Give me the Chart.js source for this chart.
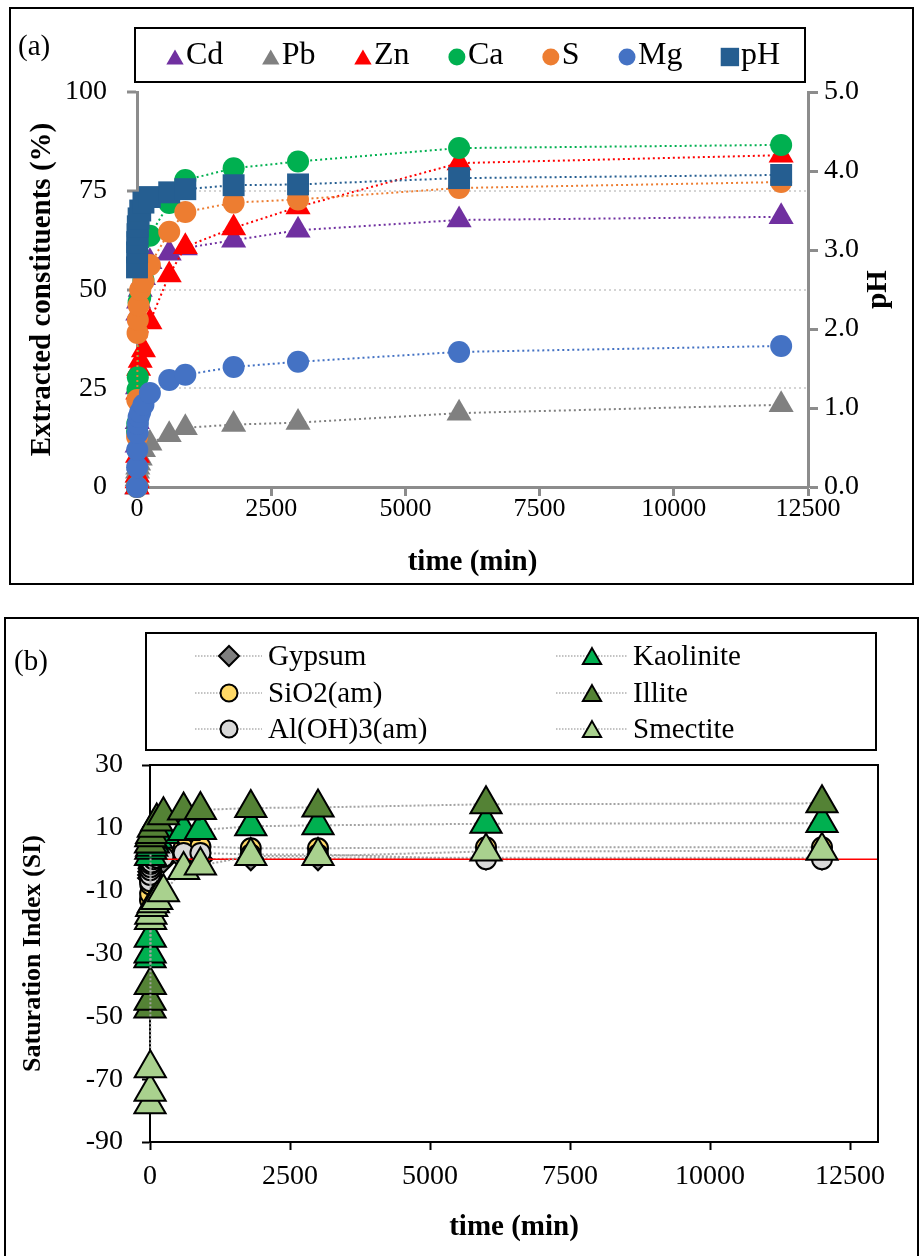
<!DOCTYPE html>
<html>
<head>
<meta charset="utf-8">
<title>Extraction kinetics and saturation indices</title>
<script src="https://cdn.jsdelivr.net/npm/chart.js@4.4.1/dist/chart.umd.min.js"></script>
<style>
  html, body { margin: 0; padding: 0; background: #fff; }
  body { position: relative; width: 919px; height: 1256px; overflow: hidden; font-family: "Liberation Serif", "Times New Roman", serif; }
  canvas { position: absolute; left: 0; }
  #chartA { top: 0; }
  #chartB { top: 600px; }
  .frame { position: absolute; border: 2px solid #000; box-sizing: border-box; pointer-events: none; }
  #frameA { left: 9px; top: 7px; width: 905px; height: 578px; }
  #frameB { left: 4px; top: 617px; width: 915px; height: 660px; }
  .tag { position: absolute; font-size: 29px; line-height: 1; color: #000; }
</style>
</head>
<body>
<canvas id="chartA" width="919" height="600"></canvas>
<canvas id="chartB" width="919" height="656"></canvas>
<div id="frameA" class="frame"></div>
<div id="frameB" class="frame"></div>
<div class="tag" style="left:18px;top:31px">(a)</div>
<div class="tag" style="left:14px;top:646px">(b)</div>

<script>
// sampling times (min), shared by both panels
const timeMin = [0, 2, 5, 10, 15, 30, 60, 120, 240, 600, 900, 1800, 3000, 6000, 12000];
const timeTicks = [0, 2500, 5000, 7500, 10000, 12500];

// panel (a): extracted constituents (%) and pH
const cdPct = [0, 10.6, 16.5, 25.3, 44, 47, 50, 53, 57, 59.2, 60.5, 62.5, 65, 67.6, 68.4];
const pbPct = [0, 2, 3, 4, 5, 6, 7.3, 9.4, 11.1, 13.2, 15, 15.8, 16.3, 18.7, 20.8];
const znPct = [0, 1.5, 3, 8, 24, 30, 32, 34.7, 41.8, 53.7, 60.8, 65.6, 70.9, 82, 84];
const caPct = [0, 14, 16, 24.6, 27.8, 46.8, 48, 52.4, 63.6, 71.9, 77.7, 80.7, 82.4, 85.8, 86.6];
const sPct = [0, 12.7, 22, 39, 42.3, 46, 49.9, 52, 56.2, 64.6, 69.6, 72, 72.8, 75.7, 77.2];
const mgPct = [0, 5, 9.4, 13.7, 16, 17.7, 19, 20.8, 23.8, 27.1, 28.4, 30.4, 31.7, 34.2, 35.7];
const phVal = [2.78, 2.97, 3.1, 3.2, 3.3, 3.4, 3.5, 3.6, 3.67, 3.73, 3.77, 3.82, 3.83, 3.91, 3.95];
const pctGridValues = [25, 50, 75];

// panel (b): saturation indices
const gypsumSI = [-6, -5, -4, -3, -2.5, -2, -1.5, -1, -0.5, 0, 0, 0.3, 0.3, 0.5, 0.5];
const sio2SI = [-13, -11, -8, -5, -3, -1.5, 0, 1, 2, 3.5, 4, 3.5, 3.5, 3.8, 3.8];
const aloh3SI = [-7, -5, -3.5, -2.5, -1.5, -1, 0, 0.5, 0.7, 2, 2, 1.5, 1.5, 0, 0];
const kaoliniteSI = [-31.5, -30, -25, 1, 3, 4, 5, 6.5, 8, 9, 9.3, 10.5, 10.8, 11.3, 11.5];
const illiteSI = [-47.5, -45, -40, 5, 7, 8, 10, 12, 14, 15.5, 15.7, 16.3, 16.5, 17.5, 17.8];
const smectiteSI = [-78, -74, -66.5, -19.3, -17.7, -15.2, -14, -13, -10.5, -3.4, -2, 1, 1, 2.5, 2.7];
const equilibriumSI = 0;

const serif = '"Liberation Serif", "Times New Roman", serif';
Chart.defaults.font.family = serif;
Chart.defaults.color = '#000';
Chart.defaults.animation = false;

const scatterPts = (ys) => timeMin.map((t, i) => ({ x: t, y: ys[i] }));
const plainNum = (v) => String(v);
const fixedTimeTicks = (s) => { s.ticks = timeTicks.map(v => ({ value: v })); };

function drawMarker(ctx, shape, x, y, r) {
  ctx.beginPath();
  if (shape === 'circle') {
    ctx.arc(x, y, r, 0, Math.PI * 2);
  } else if (shape === 'triangle') {
    ctx.moveTo(x, y - r);
    ctx.lineTo(x + r * 0.866, y + r / 2);
    ctx.lineTo(x - r * 0.866, y + r / 2);
    ctx.closePath();
  } else if (shape === 'rect') {
    const s = r * Math.SQRT1_2;
    ctx.rect(x - s, y - s, 2 * s, 2 * s);
  } else {
    ctx.moveTo(x - r, y);
    ctx.lineTo(x, y - r);
    ctx.lineTo(x + r, y);
    ctx.lineTo(x, y + r);
    ctx.closePath();
  }
  ctx.fill();
}

// ---------- panel (a) ----------
function seriesA(label, ys, color, shape, radius, axisId, order) {
  return {
    label, data: scatterPts(ys), yAxisID: axisId, order,
    showLine: true, borderColor: color, borderWidth: 2, borderDash: [2, 3],
    pointStyle: shape, pointRadius: radius, pointHoverRadius: radius,
    backgroundColor: color, pointBackgroundColor: color, pointBorderWidth: 0,
    clip: false
  };
}

const legendSizeA = { triangle: 10, circle: 8.5, rect: 13 };

const legendRowA = {
  id: 'legendRowA',
  afterDraw(chart) {
    const ctx = chart.ctx;
    ctx.save();
    ctx.strokeStyle = '#000';
    ctx.lineWidth = 2;
    ctx.strokeRect(135, 28, 670, 54);
    ctx.font = '32px ' + serif;
    ctx.textBaseline = 'middle';
    const sets = chart.data.datasets;
    const widths = sets.map(d => 17 + ctx.measureText(d.label).width);
    const gap = (778 - 167 - widths.reduce((a, b) => a + b, 0)) / (sets.length - 1);
    let x = 167;
    sets.forEach((d, i) => {
      const r = legendSizeA[d.pointStyle];
      ctx.fillStyle = d.pointBackgroundColor;
      drawMarker(ctx, d.pointStyle, x + 8, d.pointStyle === 'triangle' ? 57 + r / 4 : 57, r);
      ctx.fillStyle = '#000';
      ctx.fillText(d.label, x + 19, 56);
      x += widths[i] + gap;
    });
    ctx.restore();
  }
};

// secondary axis title, rotated like the primary one (reads bottom to top)
const phTitle = {
  id: 'phTitle',
  afterDraw(chart) {
    const s = chart.scales.yPh;
    const t = s.options.title;
    const ctx = chart.ctx;
    ctx.save();
    ctx.translate(s.right - 19, (s.top + s.bottom) / 2);
    ctx.rotate(-Math.PI / 2);
    ctx.font = 'bold 29px ' + serif;
    ctx.fillStyle = '#000';
    ctx.textAlign = 'center';
    ctx.textBaseline = 'middle';
    ctx.fillText(t.text, 0, 0);
    ctx.restore();
  }
};

const axisGrey = '#8c8c8c';

new Chart(document.getElementById('chartA'), {
  type: 'scatter',
  data: {
    datasets: [
      seriesA('Cd', cdPct, '#7030a0', 'triangle', 14.5, 'yPct', 7),
      seriesA('Pb', pbPct, '#808080', 'triangle', 14.5, 'yPct', 6),
      seriesA('Zn', znPct, '#ff0000', 'triangle', 14.5, 'yPct', 5),
      seriesA('Ca', caPct, '#00b050', 'circle', 11, 'yPct', 4),
      seriesA('S', sPct, '#ed7d31', 'circle', 11, 'yPct', 3),
      seriesA('Mg', mgPct, '#4472c4', 'circle', 11, 'yPct', 2),
      seriesA('pH', phVal, '#255e91', 'rect', 15.5, 'yPh', 1)
    ]
  },
  options: {
    responsive: false,
    devicePixelRatio: 1,
    events: [],
    layout: { padding: { top: 92, left: 10, right: 21, bottom: 23 } },
    plugins: { legend: { display: false }, tooltip: { enabled: false } },
    scales: {
      x: {
        type: 'linear', position: 'bottom', min: 0, max: 12500,
        afterFit: (s) => { s.height = 90; },
        afterBuildTicks: fixedTimeTicks,
        ticks: { font: { size: 26 }, padding: -2, maxRotation: 0, callback: plainNum },
        grid: { drawOnChartArea: false, tickLength: 9, tickColor: axisGrey, tickWidth: 3 },
        border: { color: axisGrey, width: 3 },
        title: { display: true, text: 'time (min)', font: { size: 29, weight: 'bold' }, padding: { top: 0, bottom: -3 } }
      },
      yPct: {
        type: 'linear', position: 'left', min: 0, max: 100,
        afterFit: (s) => { s.width = 127; },
        ticks: { stepSize: 25, font: { size: 28 }, padding: 20, callback: plainNum },
        grid: {
          color: (c) => pctGridValues.includes(c.tick && c.tick.value) ? '#d4d4d4' : 'rgba(0,0,0,0)',
          lineWidth: 2, tickLength: 10, tickColor: axisGrey, tickWidth: 3
        },
        border: { color: axisGrey, width: 3, dash: [2, 3] },
        title: { display: true, text: 'Extracted constituents (%)', font: { size: 29, weight: 'bold' }, padding: { top: 15, bottom: 0 } }
      },
      yPh: {
        type: 'linear', position: 'right', min: 0, max: 5,
        afterFit: (s) => { s.width = 90; },
        ticks: { stepSize: 1, font: { size: 28 }, padding: 6, callback: (v) => Number(v).toFixed(1) },
        grid: { drawOnChartArea: false, tickLength: 10, tickColor: axisGrey, tickWidth: 3 },
        border: { color: axisGrey, width: 3 },
        title: { display: false, text: 'pH' }
      }
    }
  },
  plugins: [legendRowA, phTitle]
});

// ---------- panel (b) ----------
function seriesB(label, ys, fill, shape, radius, order) {
  return {
    label, data: scatterPts(ys), order,
    showLine: true, borderColor: '#a3a3a3', borderWidth: 2, borderDash: [2, 2],
    pointStyle: shape, pointRadius: radius, pointHoverRadius: radius,
    backgroundColor: fill, pointBackgroundColor: fill,
    pointBorderColor: '#000', pointBorderWidth: 2,
    clip: false
  };
}

const legendSizeB = { triangle: 10.5, circle: 8.5, rectRot: 10 };

const legendGridB = {
  id: 'legendGridB',
  afterDraw(chart) {
    const ctx = chart.ctx;
    const cols = [{ x0: 195, xm: 229, x1: 262, xt: 268 }, { x0: 556, xm: 592, x1: 627, xt: 633 }];
    const rows = [56, 93, 129];
    ctx.save();
    ctx.strokeStyle = '#000';
    ctx.lineWidth = 2;
    ctx.strokeRect(146, 33, 730, 117);
    ctx.font = '29px ' + serif;
    ctx.textBaseline = 'middle';
    chart.data.datasets.forEach((d, i) => {
      const c = cols[Math.floor(i / 3)];
      const y = rows[i % 3];
      ctx.save();
      ctx.strokeStyle = '#b0b0b0';
      ctx.lineWidth = 1.5;
      ctx.setLineDash([1.5, 1.5]);
      ctx.beginPath();
      ctx.moveTo(c.x0, y);
      ctx.lineTo(c.x1, y);
      ctx.stroke();
      ctx.restore();
      const r = legendSizeB[d.pointStyle];
      ctx.fillStyle = d.pointBackgroundColor;
      drawMarker(ctx, d.pointStyle, c.xm, d.pointStyle === 'triangle' ? y + r / 4 : y, r);
      ctx.lineWidth = 2;
      ctx.strokeStyle = '#000';
      ctx.stroke();
      ctx.fillStyle = '#000';
      ctx.fillText(d.label, c.xt, y + 1);
    });
    ctx.restore();
  }
};

const plotFrameB = {
  id: 'plotFrameB',
  afterDatasetDraw(chart, args) {
    // equilibrium line sits above the amorphous phases, below the clays
    if (args.index !== 2) return;
    const { ctx, chartArea, scales } = chart;
    const y = scales.y.getPixelForValue(equilibriumSI);
    ctx.save();
    ctx.strokeStyle = '#ff0000';
    ctx.lineWidth = 1.5;
    ctx.beginPath();
    ctx.moveTo(scales.x.getPixelForValue(0), y);
    ctx.lineTo(chartArea.right, y);
    ctx.stroke();
    ctx.restore();
  },
  afterDraw(chart) {
    const { ctx, chartArea: a } = chart;
    ctx.save();
    ctx.strokeStyle = '#000';
    ctx.lineWidth = 2;
    ctx.beginPath();
    ctx.moveTo(a.left, a.top);
    ctx.lineTo(a.right, a.top);
    ctx.lineTo(a.right, a.bottom);
    ctx.stroke();
    ctx.restore();
  }
};

new Chart(document.getElementById('chartB'), {
  type: 'scatter',
  data: {
    datasets: [
      seriesB('Gypsum', gypsumSI, '#7f7f7f', 'rectRot', 12, 6),
      seriesB('SiO2(am)', sio2SI, '#ffd966', 'circle', 10, 5),
      seriesB('Al(OH)3(am)', aloh3SI, '#d9d9d9', 'circle', 10, 4),
      seriesB('Kaolinite', kaoliniteSI, '#00b050', 'triangle', 18, 3),
      seriesB('Illite', illiteSI, '#548235', 'triangle', 18, 2),
      seriesB('Smectite', smectiteSI, '#a9d18e', 'triangle', 18, 1)
    ]
  },
  options: {
    responsive: false,
    devicePixelRatio: 1,
    events: [],
    layout: { padding: { top: 165, left: 8, right: 41, bottom: 11 } },
    plugins: { legend: { display: false }, tooltip: { enabled: false } },
    scales: {
      x: {
        type: 'linear', position: 'bottom', min: 0, max: 13000, bounds: 'data',
        afterFit: (s) => { s.height = 103; },
        afterBuildTicks: fixedTimeTicks,
        ticks: { font: { size: 28 }, padding: 10, maxRotation: 0, callback: plainNum },
        grid: { drawOnChartArea: false, tickLength: 8, tickColor: '#000', tickWidth: 2 },
        border: { color: '#000', width: 2 },
        title: { display: true, text: 'time (min)', font: { size: 29, weight: 'bold' }, padding: { top: 0, bottom: 0 } }
      },
      y: {
        type: 'linear', position: 'left', min: -90, max: 30,
        afterFit: (s) => { s.width = 142; },
        ticks: { stepSize: 20, font: { size: 28 }, padding: 19, callback: plainNum },
        grid: { drawOnChartArea: false, tickLength: 8, tickColor: '#000', tickWidth: 2 },
        border: { color: '#000', width: 2 },
        title: { display: true, text: 'Saturation Index (SI)', font: { size: 26, weight: 'bold' }, padding: { top: 10, bottom: 0 } }
      }
    }
  },
  plugins: [legendGridB, plotFrameB]
});
</script>
</body>
</html>
